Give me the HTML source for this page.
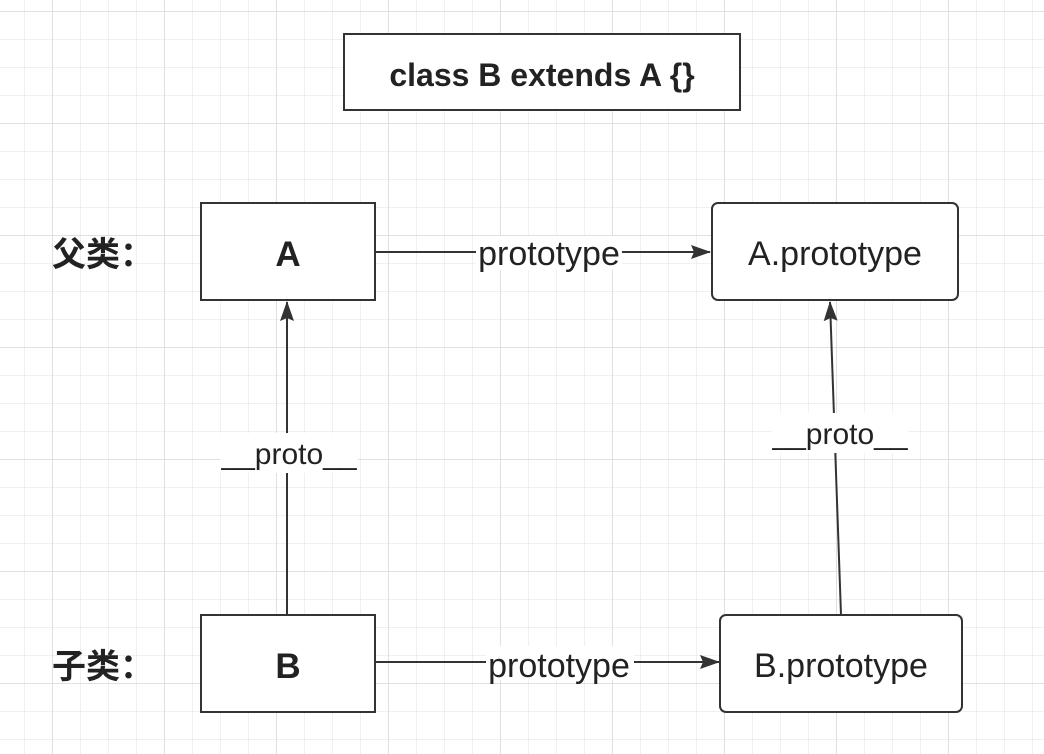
<!DOCTYPE html>
<html><head><meta charset="utf-8"><style>
body{margin:0;background:#fff}
svg{display:block}
text{font-family:"Liberation Sans","Noto Sans CJK SC",sans-serif;fill:#222}
</style></head><body>
<svg width="1044" height="754" viewBox="0 0 1044 754" xmlns="http://www.w3.org/2000/svg">
<defs>
<pattern id="minor" width="28" height="28" patternUnits="userSpaceOnUse" x="24" y="11">
<path d="M0 0H28M0 0V28" stroke="#ebebeb" stroke-width="1.5" fill="none"/>
</pattern>
<pattern id="major" width="112" height="112" patternUnits="userSpaceOnUse" x="52" y="11">
<path d="M0 0H112M0 0V112" stroke="#e0e0e0" stroke-width="2" fill="none"/>
</pattern>
<marker id="ar" markerWidth="20" markerHeight="14" refX="19" refY="7" orient="auto" markerUnits="userSpaceOnUse" viewBox="0 0 20 14">
<path d="M0 0L20 7L0 14L3 7Z" fill="#333"/>
</marker>
</defs>
<rect width="1044" height="754" fill="#fff"/>
<rect width="1044" height="754" fill="url(#minor)"/>
<rect width="1044" height="754" fill="url(#major)"/>

<g stroke="#333" stroke-width="2" fill="#fff">
<rect x="344" y="34" width="396" height="76"/>
<rect x="201" y="203" width="174" height="97"/>
<rect x="712" y="203" width="246" height="97" rx="6"/>
<rect x="201" y="615" width="174" height="97"/>
<rect x="720" y="615" width="242" height="97" rx="6"/>
</g>
<g stroke="#333" stroke-width="2" fill="none">
<line x1="375" y1="252" x2="710" y2="252" marker-end="url(#ar)"/>
<line x1="375" y1="662" x2="719" y2="662" marker-end="url(#ar)"/>
<line x1="287" y1="615" x2="287" y2="302" marker-end="url(#ar)"/>
<line x1="841" y1="615" x2="830" y2="302" marker-end="url(#ar)"/>
</g>
<g fill="#fff">
<rect x="476" y="236" width="146" height="34"/>
<rect x="486" y="646" width="148" height="34"/>
<rect x="220" y="433" width="138" height="40"/>
<rect x="772" y="413" width="136" height="40"/>
</g>
<text x="542" y="86" font-size="32" font-weight="bold" text-anchor="middle">class B extends A {}</text>
<text x="288" y="266" font-size="35" font-weight="bold" text-anchor="middle">A</text>
<text x="288" y="678" font-size="35" font-weight="bold" text-anchor="middle">B</text>
<text x="835" y="265" font-size="34" text-anchor="middle">A.prototype</text>
<text x="841" y="677" font-size="34" text-anchor="middle">B.prototype</text>
<text x="549" y="265" font-size="34" text-anchor="middle">prototype</text>
<text x="559" y="677" font-size="34" text-anchor="middle">prototype</text>
<text x="289" y="464" font-size="30" text-anchor="middle">__proto__</text>
<text x="840" y="444" font-size="30" text-anchor="middle">__proto__</text>
<text x="52" y="266" font-size="34" font-weight="bold">父类：</text>
<text x="52" y="678" font-size="34" font-weight="bold">子类：</text>
</svg>
</body></html>
